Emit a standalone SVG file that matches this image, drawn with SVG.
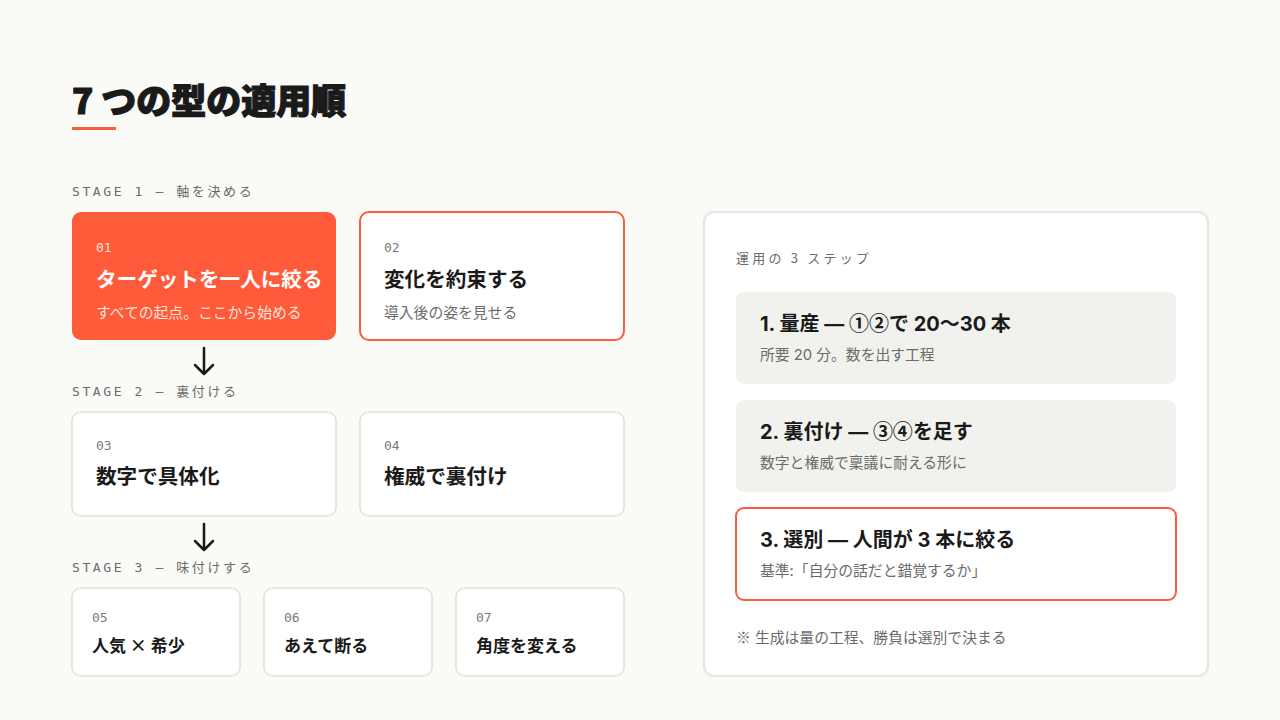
<svg xmlns="http://www.w3.org/2000/svg" width="1280" height="720" viewBox="0 0 1280 720">
<defs>
<style>
.title{font-family:"Noto Sans CJK JP",sans-serif;font-weight:900;font-size:35px;fill:#1a1a1a;stroke:#1a1a1a;stroke-width:1.2px;stroke-linejoin:round}
.stage{font-family:"DejaVu Sans Mono","Noto Sans CJK JP",monospace;font-size:13px;letter-spacing:2.6px;fill:#6b6b6b}
.cap{font-family:"Noto Sans CJK JP",sans-serif;font-size:13px;letter-spacing:3.2px;fill:#6b6b6b}
.num{font-family:"DejaVu Sans Mono",monospace;font-size:13px;fill:#7a7a7a}
.num-w{font-family:"DejaVu Sans Mono",monospace;font-size:13px;fill:#ffe3da}
.ct{font-family:"Noto Sans CJK JP",sans-serif;font-weight:700;font-size:20.6px;fill:#1a1a1a}
.ct-w{font-family:"Noto Sans CJK JP",sans-serif;font-weight:700;font-size:20.6px;fill:#ffffff}
.ct-s{font-family:"Noto Sans CJK JP",sans-serif;font-weight:700;font-size:17px;fill:#1a1a1a}
.sub{font-family:"Inter","Noto Sans CJK JP",sans-serif;font-size:14.8px;fill:#6b6b6b}
.sub-w{font-family:"Noto Sans CJK JP",sans-serif;font-size:14.8px;fill:#ffe3da}
.cjk{font-family:"Noto Sans CJK JP",sans-serif}
.card{fill:#ffffff;stroke:#e6e5df;stroke-width:2}
.card-hl{fill:#ffffff;stroke:#ff5a3a;stroke-width:2}
.card-fill{fill:#ff5a3a}
.step{fill:#f1f1ed}
.st{font-family:"Inter","Noto Sans CJK JP",sans-serif;font-weight:700;font-size:20px;fill:#1a1a1a}
.arrow{fill:none;stroke:#1a1a1a;stroke-width:2.5;stroke-linecap:round;stroke-linejoin:round}
</style>
</defs>
<rect x="0" y="0" width="1280" height="720" fill="#fafaf7"/>

<g id="header">
<text class="title" x="72" y="114">7 つの型の適用順</text>
<rect x="72" y="127" width="44" height="3" fill="#ff5a3a"/>
</g>

<g id="stage-labels">
<text class="stage" x="72" y="196">STAGE 1 — 軸を決める</text>
<text class="stage" x="72" y="396">STAGE 2 — 裏付ける</text>
<text class="stage" x="72" y="572">STAGE 3 — 味付けする</text>
</g>

<g id="node-01">
<rect class="card-fill" x="72" y="212" width="264" height="128" rx="9"/>
<text class="num-w" x="96" y="252">01</text>
<text class="ct-w" x="96" y="287">ターゲットを一人に絞る</text>
<text class="sub-w" x="96" y="318">すべての起点。ここから始める</text>
</g>

<g id="node-02">
<rect class="card-hl" x="360" y="212" width="264" height="128" rx="9"/>
<text class="num" x="384" y="252">02</text>
<text class="ct" x="384" y="287">変化を約束する</text>
<text class="sub" x="384" y="318">導入後の姿を見せる</text>
</g>

<g id="node-03">
<rect class="card" x="72" y="412" width="264" height="104" rx="9"/>
<text class="num" x="96" y="450">03</text>
<text class="ct" x="96" y="484">数字で具体化</text>
</g>

<g id="node-04">
<rect class="card" x="360" y="412" width="264" height="104" rx="9"/>
<text class="num" x="384" y="450">04</text>
<text class="ct" x="384" y="484">権威で裏付け</text>
</g>

<g id="node-05">
<rect class="card" x="72" y="588" width="168" height="88" rx="9"/>
<text class="num" x="92" y="622">05</text>
<text class="ct-s" x="92" y="652">人気 × 希少</text>
</g>

<g id="node-06">
<rect class="card" x="264" y="588" width="168" height="88" rx="9"/>
<text class="num" x="284" y="622">06</text>
<text class="ct-s" x="284" y="652">あえて断る</text>
</g>

<g id="node-07">
<rect class="card" x="456" y="588" width="168" height="88" rx="9"/>
<text class="num" x="476" y="622">07</text>
<text class="ct-s" x="476" y="652">角度を変える</text>
</g>

<g id="connectors">
<path class="arrow" d="M204 348 V374 M195 365 L204 374 L213 365"/>
<path class="arrow" d="M204 524 V550 M195 541 L204 550 L213 541"/>
</g>

<g id="panel">
<rect x="704" y="212" width="504" height="464" rx="10" fill="#ffffff" stroke="#e6e5df" stroke-width="2"/>
<text class="cap" x="736" y="263">運用の 3 ステップ</text>
</g>

<g id="step-1">
<rect class="step" x="736" y="292" width="440" height="92" rx="8"/>
<text class="st" x="760" y="331">1. 量産 — <tspan class="cjk">①②</tspan>で 20〜30 本</text>
<text class="sub" x="760" y="360">所要 20 分。数を出す工程</text>
</g>

<g id="step-2">
<rect class="step" x="736" y="400" width="440" height="92" rx="8"/>
<text class="st" x="760" y="439">2. 裏付け — <tspan class="cjk">③④</tspan>を足す</text>
<text class="sub" x="760" y="468">数字と権威で稟議に耐える形に</text>
</g>

<g id="step-3">
<rect class="card-hl" x="736" y="508" width="440" height="92" rx="8"/>
<text class="st" x="760" y="547">3. 選別 — 人間が 3 本に絞る</text>
<text class="sub" x="760" y="576">基準:「自分の話だと錯覚するか」</text>
</g>

<g id="footnote">
<text class="sub" x="736" y="643"><tspan class="cjk">※</tspan> 生成は量の工程、勝負は選別で決まる</text>
</g>
</svg>
